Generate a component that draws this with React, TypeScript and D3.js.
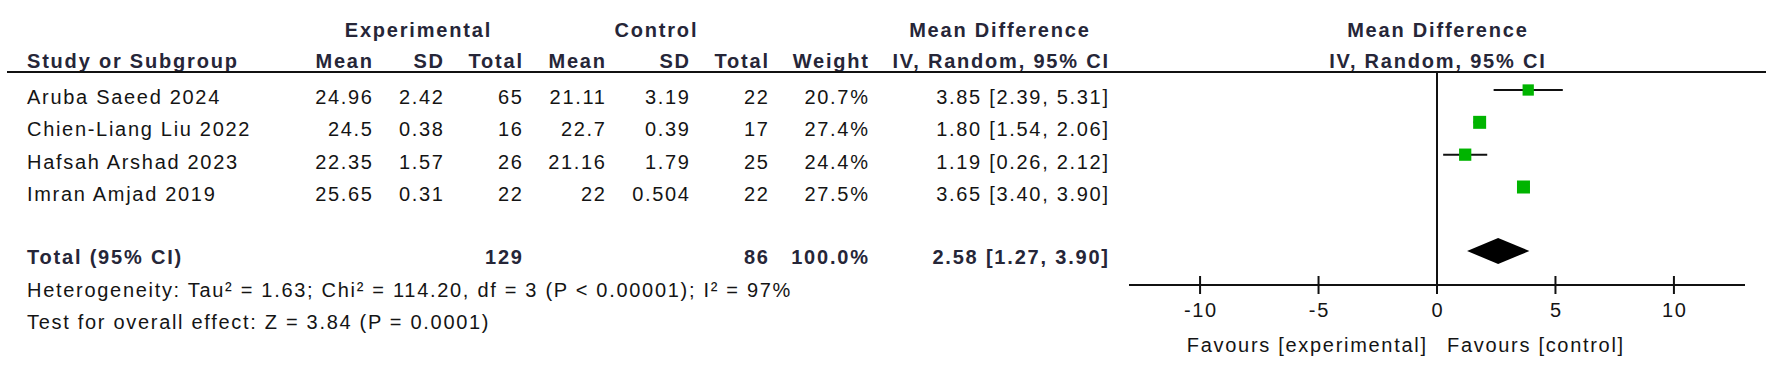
import React from "react";
import * as d3 from "d3";

// Study-level data
const studies = ["Aruba Saeed 2024", "Chien-Liang Liu 2022", "Hafsah Arshad 2023", "Imran Amjad 2019"];
const expMean = [24.96, 24.5, 22.35, 25.65];
const expSD = [2.42, 0.38, 1.57, 0.31];
const expN = [65, 16, 26, 22];
const ctrlMean = [21.11, 22.7, 21.16, 22];
const ctrlSD = [3.19, 0.39, 1.79, 0.504];
const ctrlN = [22, 17, 25, 22];
const weights = [20.7, 27.4, 24.4, 27.5];
const md = [3.85, 1.8, 1.19, 3.65];
const mdLow = [2.39, 1.54, 0.26, 3.4];
const mdHigh = [5.31, 2.06, 2.12, 3.9];

// Pooled result
const totalExpN = 129;
const totalCtrlN = 86;
const totalWeight = 100.0;
const pooled = [2.58, 1.27, 3.9]; // estimate, lower, upper

const heterogeneityText = "Heterogeneity: Tau\u00B2 = 1.63; Chi\u00B2 = 114.20, df = 3 (P < 0.00001); I\u00B2 = 97%";
const overallText = "Test for overall effect: Z = 3.84 (P = 0.0001)";

const axisTicks = [-10, -5, 0, 5, 10];
const axisDomain: [number, number] = [-13, 13];

const W = 1772;
const H = 368;
const FONT = "'Liberation Sans', Arial, sans-serif";
const FS = 20;
const LS_REG = 1.7;
const LS_BOLD = 1.8;
const headColor = "#262638";
const textColor = "#141414";

// right edges of table columns
const colRight = [372, 443, 522, 605, 689, 768, 868, 1108];
const colHeads = ["Mean", "SD", "Total", "Mean", "SD", "Total", "Weight", "IV, Random, 95% CI"];

export default function App() {
  const x = d3.scaleLinear().domain(axisDomain).range([1129, 1745]);
  const rowY = d3.scalePoint<number>().domain(d3.range(studies.length)).range([97, 194]);
  const markOffset = -7;
  const sqSide = d3.scaleSqrt().domain([0, 27.5]).range([0, 13]);

  const headerLineY = 72;
  const axisY = 285;
  const totalY = 257;

  const fmtCI = (m: number, l: number, h: number) => `${m.toFixed(2)} [${l.toFixed(2)}, ${h.toFixed(2)}]`;

  const txt = (
    s: string,
    xx: number,
    yc: number,
    anchor: "start" | "middle" | "end",
    bold = false,
    key?: string | number
  ) => {
    const ls = bold ? LS_BOLD : LS_REG;
    // letter-spacing also trails the last glyph; shift anchored text back
    const dx = anchor === "end" ? ls : anchor === "middle" ? ls / 2 : 0;
    return (
      <text
        key={key}
        x={xx + dx}
        y={yc + 7}
        textAnchor={anchor}
        fontFamily={FONT}
        fontSize={FS}
        fontWeight={bold ? "bold" : "normal"}
        letterSpacing={ls}
        fill={bold ? headColor : textColor}
      >
        {s}
      </text>
    );
  };

  const cx = (i: number) => (i === 0 ? (313 + 522) / 2 : (543 + 768) / 2);

  return (
    <svg
      width={W}
      height={H}
      style={{ position: "absolute", left: 0, top: 0, background: "#fff" }}
    >
      <rect x={0} y={0} width={W} height={H} fill="#fff" />
      {/* group headers */}
      {txt("Experimental", cx(0), 30, "middle", true)}
      {txt("Control", cx(1), 30, "middle", true)}
      {txt("Mean Difference", 999, 30, "middle", true)}
      {txt("Mean Difference", x(0), 30, "middle", true)}
      {/* column headers */}
      {txt("Study or Subgroup", 27, 61, "start", true)}
      {colHeads.map((h, i) => txt(h, colRight[i], 61, "end", true, "h" + i))}
      {txt("IV, Random, 95% CI", x(0), 61, "middle", true)}
      <line x1={7} x2={1766} y1={headerLineY} y2={headerLineY} stroke="#111" strokeWidth={2} />

      {/* study rows */}
      {studies.map((s, i) => {
        const y = rowY(i)!;
        const vals = [
          String(expMean[i]),
          String(expSD[i]),
          String(expN[i]),
          String(ctrlMean[i]),
          String(ctrlSD[i]),
          String(ctrlN[i]),
          weights[i].toFixed(1) + "%",
          fmtCI(md[i], mdLow[i], mdHigh[i]),
        ];
        return (
          <g key={s}>
            {txt(s, 27, y, "start")}
            {vals.map((v, j) => txt(v, colRight[j], y, "end", false, j))}
          </g>
        );
      })}

      {/* total row */}
      {txt("Total (95% CI)", 27, totalY, "start", true)}
      {txt(String(totalExpN), colRight[2], totalY, "end", true)}
      {txt(String(totalCtrlN), colRight[5], totalY, "end", true)}
      {txt(totalWeight.toFixed(1) + "%", colRight[6], totalY, "end", true)}
      {txt(fmtCI(pooled[0], pooled[1], pooled[2]), colRight[7], totalY, "end", true)}
      {txt(heterogeneityText, 27, 290, "start")}
      {txt(overallText, 27, 322, "start")}

      {/* plot: zero line */}
      <line x1={x(0)} x2={x(0)} y1={headerLineY} y2={axisY} stroke="#111" strokeWidth={2} />

      {/* CIs and squares */}
      {studies.map((s, i) => {
        const y = rowY(i)! + markOffset;
        const side = sqSide(weights[i]);
        return (
          <g key={"m" + s}>
            <line x1={x(mdLow[i])} x2={x(mdHigh[i])} y1={y} y2={y} stroke="#111" strokeWidth={2} />
            <rect x={x(md[i]) - side / 2} y={y - side / 2} width={side} height={side} fill="#00b400" />
          </g>
        );
      })}

      {/* pooled diamond */}
      <path
        d={`M${x(pooled[1])},${totalY - 6} L${x(pooled[0])},${totalY - 6 - 13} L${x(pooled[2])},${totalY - 6} L${x(pooled[0])},${totalY - 6 + 13} Z`}
        fill="#000"
      />

      {/* axis */}
      <line x1={x(axisDomain[0])} x2={x(axisDomain[1])} y1={axisY} y2={axisY} stroke="#111" strokeWidth={2} />
      {axisTicks.map((t) => (
        <g key={"t" + t}>
          <line x1={x(t)} x2={x(t)} y1={axisY - 9} y2={axisY + 9} stroke="#111" strokeWidth={2} />
          {txt(String(t), x(t), 310, "middle", false)}
        </g>
      ))}
      {txt("Favours [experimental]", x(0) - 11, 345, "end")}
      {txt("Favours [control]", x(0) + 10, 345, "start")}
    </svg>
  );
}
